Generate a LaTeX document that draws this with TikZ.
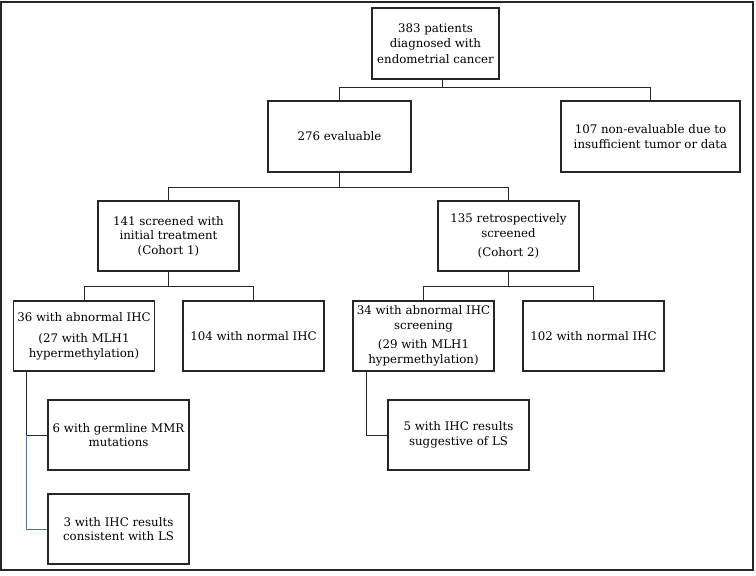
\documentclass[tikz,border=0pt]{standalone}
\usepackage{fontspec}
\setmainfont{DejaVu Serif}
\definecolor{linkblue}{RGB}{68,114,196}
\begin{document}
\begin{tikzpicture}[
    x=1pt, y=-1pt,
    box/.style={rectangle,draw=black!85,line width=1.2pt,minimum width=141pt,minimum height=70pt,
      align=center,inner sep=1pt,font=\fontsize{11.8}{14.5}\selectfont},
    link/.style={draw=black!85, line width=0.9pt},
    bluelink/.style={draw=linkblue, line width=1pt}
]
\useasboundingbox (0,0) rectangle (756,576);
\draw[line width=1.2pt, black!85] (1,2) rectangle (753,570);

\node[box, minimum width=127pt, minimum height=71pt] (pat) at (435.5,43.5) {383 patients\\[1pt]diagnosed with\\[1pt]endometrial cancer};
\node[box, minimum width=143pt, minimum height=71pt] (eval) at (339.5,136.5) {276 evaluable};
\node[box, minimum width=179pt, minimum height=71pt] (noneval) at (650.5,136.5) {107 non-evaluable due to\\insufficient tumor or data};

\node[box] (coh1) at (168.5,236) {141 screened with\\initial treatment\\(Cohort 1)};
\node[box] (coh2) at (508.5,236) {135 retrospectively\\screened\\[5pt](Cohort 2)};

\node[box] (abn1) at (84,336) {36 with abnormal IHC\\[7pt](27 with MLH1\\hypermethylation)};
\node[box] (norm1) at (253.5,336) {104 with normal IHC};
\node[box] (abn2) at (423.5,336) {34 with abnormal IHC\\screening\\[5pt](29 with MLH1\\hypermethylation)};
\node[box] (norm2) at (593.5,336) {102 with normal IHC};

\node[box] (germ) at (118.5,435) {6 with germline MMR\\mutations};
\node[box] (cons) at (118.5,529) {3 with IHC results\\consistent with LS};
\node[box] (sugg) at (458.5,435) {5 with IHC results\\suggestive of LS};

% tree links
\draw[link] ([xshift=7pt]pat.south) -- ++(0,8) coordinate (f1);
\draw[link] (eval.north) |- (f1) -| (noneval.north);
\draw[link] (eval.south) -- ++(0,15) coordinate (f2);
\draw[link] (coh1.north) |- (f2) -| (coh2.north);
\draw[link] (coh1.south) -- ++(0,15) coordinate (f3);
\draw[link] (abn1.north) |- (f3) -| (norm1.north);
\draw[link] (coh2.south) -- ++(0,15) coordinate (f4);
\draw[link] (abn2.north) |- (f4) -| (norm2.north);

% side links
\draw[link] ([xshift=14pt]abn1.south west) |- (germ.west);
\draw[bluelink] ([xshift=14pt]abn1.south west |- germ.west) |- (cons.west);
\draw[link] ([xshift=14pt]abn2.south west) |- (sugg.west);

\end{tikzpicture}
\end{document}
